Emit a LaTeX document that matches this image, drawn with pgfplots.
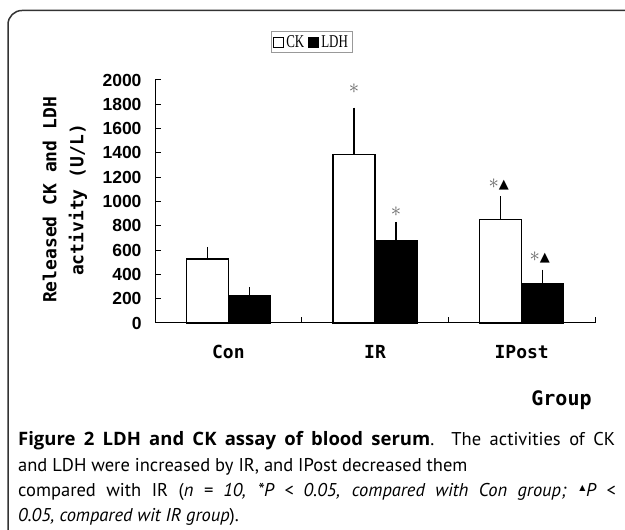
\documentclass[border=0pt]{standalone}
\usepackage{pgfplots}
\pgfplotsset{compat=1.18}
\usepackage{graphicx}
\usepackage{fontspec}
\setmainfont{PT Sans}
\newfontfamily\arialf{Liberation Sans}
\newfontfamily\monof{DejaVu Sans Mono}
\newfontfamily\serf{Liberation Serif}
\newfontfamily\symf{DejaVu Sans}
\newfontfamily\boldf{Open Sans}
\begin{document}
\begin{tikzpicture}[x=1bp,y=1bp]
\useasboundingbox (0,0) rectangle (625,530);
\draw[line width=1.5bp, black!80, rounded corners=14bp] (8,-30) -- (8,519.5) -- (660,519.5);
\begin{axis}[
  at={(155bp,207bp)}, anchor=south west,
  width=440bp, height=243bp, scale only axis,
  xmin=0.5, xmax=3.5, ymin=0, ymax=2000,
  ybar, bar width=42bp,
  axis x line*=bottom, axis y line*=left,
  axis line style={line width=1bp, black},
  xtick={0.5,1.5,2.5,3.5}, xticklabels={},
  extra x ticks={1,2,3},
  extra x tick labels={Con,IR,IPost},
  extra x tick style={tick style={draw=none}},
  xticklabel style={font=\monof\bfseries\fontsize{18bp}{20bp}\selectfont, yshift=-19bp},
  ytick={0,200,...,2000},
  major tick length=6bp,
  tick align=inside,
  tick style={line width=1bp, black},
  /pgf/number format/assume math mode=true,
  /pgf/number format/1000 sep={},
  yticklabel style={font=\arialf\bfseries\fontsize{17.5bp}{18bp}\selectfont, xshift=-10bp},
  legend image code/.code={\draw[#1, line width=1bp] (0bp,-5bp) rectangle (10bp,5bp);},
  legend columns=-1,
  legend style={at={(rel axis cs:0.356,1.156)}, anchor=center, draw=black!40, line width=0.6bp,
    font=\serf\fontsize{18bp}{20bp}\selectfont, inner sep=2bp,
    /tikz/every even column/.append style={column sep=2bp}},
  clip=false,
]
\addplot[bar shift=-21bp, fill=white, draw=black, line width=1.3bp,
  error bars/.cd, y dir=plus, y explicit,
  error bar style={line width=1.3bp, black},
  error mark options={line width=1.3bp, mark size=3bp, black}]
  coordinates {(1,527) +- (0,74) (2,1388) +- (0,359) (3,853) +- (0,165)};
\addlegendentry{\scalebox{0.72}[1]{CK}}
\addplot[bar shift=21bp, fill=black, draw=black, line width=1.3bp,
  error bars/.cd, y dir=plus, y explicit,
  error bar style={line width=1.3bp, black},
  error mark options={line width=1.3bp, mark size=3bp, black}]
  coordinates {(1,225) +- (0,47) (2,677) +- (0,130) (3,321) +- (0,93)};
\addlegendentry{\scalebox{0.72}[1]{LDH}}
\node[text=black!60, font=\fontsize{22bp}{22bp}\selectfont] at (axis cs:2,1926) [xshift=-21bp] {$\ast$};
\node[text=black!60, font=\fontsize{22bp}{22bp}\selectfont] at (axis cs:2,914) [xshift=21bp] {$\ast$};
\node[font=\fontsize{22bp}{22bp}\selectfont, inner sep=0pt] at (axis cs:3,1136) [xshift=-23bp] {\textcolor{black!60}{$\ast$}{\symf\fontsize{13bp}{13bp}\selectfont ▲}};
\node[font=\fontsize{22bp}{22bp}\selectfont, inner sep=0pt] at (axis cs:3,535) [xshift=18bp] {\textcolor{black!60}{$\ast$}{\symf\fontsize{13bp}{13bp}\selectfont ▲}};
\end{axis}
\node[rotate=90, align=center, font=\monof\bfseries\fontsize{18bp}{27bp}\selectfont] at (65,330) {Released CK and LDH\\activity (U/L)};
\node[font=\monof\bfseries\fontsize{20bp}{24bp}\selectfont] at (561.5,130) {Group};
\begin{scope}[every node/.style={anchor=base west, inner sep=0pt, font=\fontsize{18.5bp}{20bp}\selectfont}]
\node at (18,84) {\hbox to 597bp{{\boldf\bfseries\fontsize{18.5bp}{20bp}\selectfont Figure 2 LDH and CK assay of blood serum}. The activities of CK}};
\node at (18,58) {and LDH were increased by IR, and IPost decreased them};
\node at (18,33) {\hbox to 597bp{compared with IR (\textit{n = 10, *P < 0.05, compared with Con group; \textsuperscript{\symf\fontsize{8bp}{8bp}\selectfont ▲}P <}}};
\node at (18,8) {\textit{0.05, compared wit IR group}).};
\end{scope}
\end{tikzpicture}
\end{document}
